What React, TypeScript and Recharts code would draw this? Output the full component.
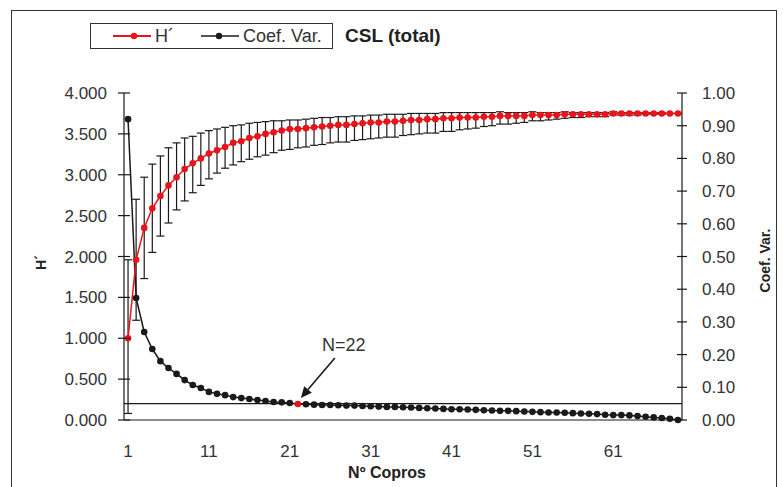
import React from "react";
import {
  ComposedChart,
  Line,
  XAxis,
  YAxis,
  ErrorBar,
  ReferenceLine,
  ReferenceDot,
} from "recharts";

// Nº copros (sample size)
const copros = [
  1, 2, 3, 4, 5, 6, 7, 8, 9, 10, 11, 12, 13, 14, 15, 16, 17, 18, 19, 20, 21, 22, 23,
  24, 25, 26, 27, 28, 29, 30, 31, 32, 33, 34, 35, 36, 37, 38, 39, 40, 41, 42, 43, 44,
  45, 46, 47, 48, 49, 50, 51, 52, 53, 54, 55, 56, 57, 58, 59, 60, 61, 62, 63, 64, 65,
  66, 67, 68, 69,
];

// Shannon diversity H'
const hValues = [
  1.0, 1.96, 2.35, 2.59, 2.74, 2.87, 2.97, 3.07, 3.14, 3.2,
  3.26, 3.3, 3.34, 3.39, 3.41, 3.45, 3.47, 3.5, 3.52, 3.54,
  3.56, 3.56, 3.57, 3.58, 3.59, 3.6, 3.61, 3.61, 3.62, 3.63,
  3.64, 3.64, 3.65, 3.65, 3.66, 3.67, 3.67, 3.68, 3.68, 3.69,
  3.69, 3.7, 3.7, 3.7, 3.71, 3.71, 3.72, 3.72, 3.72, 3.72,
  3.73, 3.73, 3.73, 3.73, 3.74, 3.74, 3.74, 3.74, 3.74, 3.74,
  3.75, 3.75, 3.75, 3.75, 3.75, 3.75, 3.75, 3.75, 3.75,
];

// error bar extents (below / above H')
const hErrDown = [
  0.92, 0.74, 0.62, 0.54, 0.49, 0.46, 0.4, 0.39, 0.36, 0.33,
  0.31, 0.28, 0.26, 0.27, 0.25, 0.26, 0.25, 0.26, 0.25, 0.24,
  0.25, 0.23, 0.23, 0.22, 0.22, 0.21, 0.21, 0.21, 0.2, 0.2,
  0.2, 0.19, 0.19, 0.19, 0.18, 0.18, 0.17, 0.17, 0.17, 0.16,
  0.16, 0.15, 0.14, 0.13, 0.12, 0.11, 0.1, 0.1, 0.09, 0.08,
  0.07, 0.07, 0.06, 0.05, 0.05, 0.04, 0.04, 0.03, 0.03, 0.03,
  0.02, 0.02, 0.02, 0.02, 0.01, 0.01, 0.01, 0.0, 0.0,
];
const hErrUp = [
  0.96, 0.74, 0.62, 0.54, 0.49, 0.46, 0.42, 0.38, 0.33, 0.31,
  0.28, 0.26, 0.24, 0.21, 0.2, 0.18, 0.17, 0.15, 0.14, 0.12,
  0.11, 0.11, 0.11, 0.11, 0.11, 0.1, 0.1, 0.1, 0.1, 0.09,
  0.09, 0.09, 0.09, 0.09, 0.08, 0.08, 0.08, 0.07, 0.07, 0.07,
  0.07, 0.06, 0.06, 0.06, 0.05, 0.05, 0.05, 0.04, 0.04, 0.04,
  0.04, 0.03, 0.03, 0.03, 0.03, 0.02, 0.02, 0.02, 0.02, 0.02,
  0.02, 0.01, 0.01, 0.01, 0.01, 0.01, 0.01, 0.0, 0.0,
];

// coefficient of variation
const cvValues = [
  0.92, 0.373, 0.269, 0.217, 0.18, 0.159, 0.141, 0.122, 0.107, 0.098,
  0.086, 0.08, 0.076, 0.07, 0.067, 0.064, 0.061, 0.058, 0.055, 0.054,
  0.052, 0.049, 0.048, 0.047, 0.046, 0.046, 0.045, 0.044, 0.044, 0.043,
  0.042, 0.041, 0.04, 0.04, 0.039, 0.038, 0.037, 0.036, 0.035, 0.034,
  0.033, 0.033, 0.032, 0.031, 0.03, 0.029, 0.028, 0.028, 0.027, 0.026,
  0.025, 0.024, 0.023, 0.023, 0.022, 0.021, 0.02, 0.019, 0.018, 0.016,
  0.015, 0.015, 0.014, 0.012, 0.01, 0.008, 0.006, 0.004, 0.0,
];

const hTicks = [0, 0.5, 1, 1.5, 2, 2.5, 3, 3.5, 4];
const cvTicks = [0, 0.1, 0.2, 0.3, 0.4, 0.5, 0.6, 0.7, 0.8, 0.9, 1];
const CV_THRESHOLD = 0.05;
const HIGHLIGHT_N = 22;

const RED = "#e8141b";
const INK = "#1a1a1a";
const FONT = "'Liberation Sans', Arial, sans-serif";
const TICK_SIZE = 5;
const LEFT_MARGIN = 12;
const RIGHT_MARGIN = 15;

const data = copros.map((n, i) => ({
  n,
  h: hValues[i],
  hErr: [hErrDown[i], hErrUp[i]],
  cv: cvValues[i],
}));

function LeftTick(props: any) {
  const { x, y, payload } = props;
  const ax = x + TICK_SIZE + LEFT_MARGIN;
  return (
    <g>
      <line x1={ax - 6} x2={ax + 6} y1={y} y2={y} stroke={INK} strokeWidth={1.2} />
      <text x={x} y={y} dy="0.355em" textAnchor="end" fontSize={17} fill="#333" fontFamily={FONT}>
        {Number(payload.value).toFixed(3)}
      </text>
    </g>
  );
}

function RightTick(props: any) {
  const { x, y, payload } = props;
  const ax = x - TICK_SIZE - RIGHT_MARGIN;
  return (
    <g>
      <line x1={ax - 5} x2={ax + 5} y1={y} y2={y} stroke={INK} strokeWidth={1.2} />
      <text x={x} y={y} dy="0.355em" textAnchor="start" fontSize={17} fill="#333" fontFamily={FONT}>
        {Number(payload.value).toFixed(2)}
      </text>
    </g>
  );
}

function CvDot(props: any) {
  const { cx, cy, payload, index } = props;
  if (cx == null || cy == null) return <g key={`cv-${index}`} />;
  return (
    <circle
      key={`cv-${index}`}
      cx={cx}
      cy={cy}
      r={3.3}
      fill={payload.n === HIGHLIGHT_N ? RED : INK}
    />
  );
}

function ArrowNote(props: any) {
  const vb = props.viewBox || {};
  const cx = (vb.x ?? 0) + (vb.width ?? 0) / 2;
  const cy = (vb.y ?? 0) + (vb.height ?? 0) / 2;
  const tail = { x: cx + 37, y: cy - 46 };
  const tip = { x: cx + 3, y: cy - 6 };
  const dx = tip.x - tail.x;
  const dy = tip.y - tail.y;
  const len = Math.sqrt(dx * dx + dy * dy);
  const ux = dx / len;
  const uy = dy / len;
  const bx = tip.x - ux * 11;
  const by = tip.y - uy * 11;
  const px = -uy;
  const py = ux;
  return (
    <g>
      <line x1={tail.x} y1={tail.y} x2={bx} y2={by} stroke={INK} strokeWidth={1.6} />
      <polygon
        points={`${tip.x},${tip.y} ${bx + px * 5},${by + py * 5} ${bx - px * 5},${by - py * 5}`}
        fill={INK}
      />
      <text x={cx + 46} y={cy - 53} textAnchor="middle" fontSize={18} fill="#333" fontFamily={FONT}>
        N=22
      </text>
    </g>
  );
}

export default function App() {
  return (
    <div style={{ position: "absolute", left: 0, top: 0, width: 783, height: 487, background: "#fff" }}>
      {/* frame */}
      <div
        style={{
          position: "absolute",
          left: 11,
          top: 10,
          width: 766,
          height: 490,
          border: "1.5px solid #333",
          boxSizing: "border-box",
        }}
      />
      {/* legend + title */}
      <div
        style={{
          position: "absolute",
          left: 90,
          top: 23,
          width: 243,
          height: 26,
          border: "1.2px solid #333",
          boxSizing: "border-box",
          fontFamily: FONT,
          fontSize: 18,
          color: "#333",
        }}
      >
        <svg width={241} height={24} style={{ position: "absolute", left: 0, top: 0 }}>
          <line x1={22} x2={60} y1={12} y2={12} stroke={RED} strokeWidth={1.8} />
          <circle cx={43} cy={12} r={3.2} fill={RED} />
          <text x={64} y={18} fontSize={18} fill="#333" fontFamily={FONT}>H´</text>
          <line x1={110} x2={148} y1={12} y2={12} stroke={INK} strokeWidth={1.5} />
          <circle cx={128} cy={12} r={3.2} fill={INK} />
          <text x={152} y={18} fontSize={18} fill="#333" fontFamily={FONT}>Coef. Var.</text>
        </svg>
      </div>
      <div
        style={{
          position: "absolute",
          left: 345,
          top: 24,
          fontFamily: FONT,
          fontSize: 19,
          fontWeight: "bold",
          color: "#222",
          lineHeight: "24px",
        }}
      >
        CSL (total)
      </div>

      <ComposedChart
        width={783}
        height={487}
        data={data}
        margin={{ top: 93, right: 0, bottom: 0, left: 0 }}
        style={{ position: "absolute", left: 0, top: 0 }}
      >
        <XAxis
          dataKey="n"
          scale="band"
          interval={9}
          tickLine={false}
          tickSize={0}
          tickMargin={25}
          height={67}
          axisLine={{ stroke: INK, strokeWidth: 1.2 }}
          tick={{ fontSize: 17, fill: "#333", fontFamily: FONT }}
          label={(p: any) => {
            const vb = p.viewBox || {};
            return (
              <text
                x={vb.x + vb.width / 2 - 16}
                y={vb.y + 58}
                textAnchor="middle"
                fontSize={16}
                fontWeight="bold"
                fill="#222"
                fontFamily={FONT}
              >
                Nº Copros
              </text>
            );
          }}
        />
        <YAxis
          yAxisId="h"
          orientation="left"
          width={124}
          domain={[0, 4]}
          ticks={hTicks}
          interval={0}
          tickLine={false}
          tickSize={TICK_SIZE}
          tickMargin={LEFT_MARGIN}
          axisLine={{ stroke: INK, strokeWidth: 1.2 }}
          tick={<LeftTick />}
          label={(p: any) => {
            const vb = p.viewBox || {};
            const x = vb.x + 41;
            const y = vb.y + vb.height / 2 + 6;
            return (
              <text
                x={x}
                y={y}
                transform={`rotate(-90 ${x} ${y})`}
                textAnchor="middle"
                dominantBaseline="central"
                fontSize={14}
                fontWeight="bold"
                fill="#222"
                fontFamily={FONT}
              >
                H´
              </text>
            );
          }}
        />
        <YAxis
          yAxisId="cv"
          orientation="right"
          width={101}
          domain={[0, 1]}
          ticks={cvTicks}
          interval={0}
          tickLine={false}
          tickSize={TICK_SIZE}
          tickMargin={RIGHT_MARGIN}
          axisLine={{ stroke: INK, strokeWidth: 1.2 }}
          tick={<RightTick />}
          label={(p: any) => {
            const vb = p.viewBox || {};
            const x = vb.x + 83;
            const y = vb.y + vb.height / 2 + 4;
            return (
              <text
                x={x}
                y={y}
                transform={`rotate(-90 ${x} ${y})`}
                textAnchor="middle"
                dominantBaseline="central"
                fontSize={14}
                fontWeight="bold"
                fill="#222"
                fontFamily={FONT}
              >
                Coef. Var.
              </text>
            );
          }}
        />
        <ReferenceLine yAxisId="cv" y={CV_THRESHOLD} stroke={INK} strokeWidth={1.2} />
        <Line
          yAxisId="cv"
          dataKey="cv"
          type="linear"
          stroke={INK}
          strokeWidth={1.5}
          dot={CvDot}
          activeDot={false}
          isAnimationActive={false}
        />
        <Line
          yAxisId="h"
          dataKey="h"
          type="linear"
          stroke={RED}
          strokeWidth={1.5}
          dot={{ r: 3.3, fill: RED, stroke: RED, strokeWidth: 0 }}
          activeDot={false}
          isAnimationActive={false}
        >
          <ErrorBar
            dataKey="hErr"
            direction="y"
            width={4}
            stroke={INK}
            strokeWidth={1.2}
            isAnimationActive={false}
          />
        </Line>
        <ReferenceDot
          yAxisId="cv"
          x={HIGHLIGHT_N}
          y={cvValues[HIGHLIGHT_N - 1]}
          r={1}
          fill="none"
          stroke="none"
          label={<ArrowNote />}
        />
      </ComposedChart>
    </div>
  );
}
